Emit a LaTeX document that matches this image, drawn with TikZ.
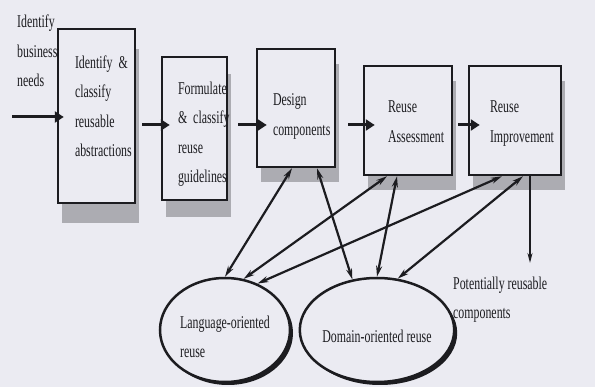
\documentclass[tikz,border=0pt]{standalone}
\usepackage{fontspec}
\setmainfont[FakeStretch=0.66]{Liberation Serif}
\usetikzlibrary{shapes.geometric, shadows, arrows.meta, positioning}
\definecolor{paper}{RGB}{235,235,242}
\definecolor{ink}{RGB}{28,28,32}
\definecolor{shadowgray}{RGB}{172,172,178}
\hyphenpenalty=10000
\exhyphenpenalty=10000
\tikzset{stepbox/.style={draw=ink,line width=2.5pt,fill=paper,text=ink,align=left,
                         font=\fontsize{18}{29.5}\selectfont,inner ysep=0pt},
         boxshadow/.style={drop shadow={shadow xshift=4pt,shadow yshift=-#1,fill=shadowgray,opacity=1}},
         boxshadow/.default=15pt,
         reuse/.style={ellipse,draw=ink,line width=2.5pt,fill=paper,text=ink,align=left,inner sep=0pt,
                       font=\fontsize{18}{29.5}\selectfont,
                       drop shadow={shadow xshift=3pt,shadow yshift=-3pt,fill=ink,opacity=1}},
         txt/.style={text=ink,align=left,inner sep=0pt,anchor=north west,font=\fontsize{18}{29.5}\selectfont},
         flow/.style={ink,line width=3pt,-{Triangle[length=9pt,width=11pt]}},
         twoway/.style={ink,line width=2.2pt,{Stealth[length=11pt,width=6pt]}-{Stealth[length=11pt,width=6pt]}},
        }

\begin{document}
\begin{tikzpicture}[x=1pt,y=-1pt]
        \fill[paper] (0,0) rectangle (595,387);
        \useasboundingbox (0,0) rectangle (595,387);

        \node[txt](needs)at(17,14.7){Identify\\business\\needs};
        \node[stepbox,boxshadow=20pt,minimum width=77pt,minimum height=174pt,text width=43pt,inner xsep=17pt,text depth=108pt](b1)at(96.5,116){Identify~\&\\classify\\reusable\\abstractions};
        \node[stepbox,boxshadow=17pt,minimum width=65pt,minimum height=143pt,text width=33pt,inner xsep=16pt,text depth=81pt](b2)at(194.5,128.5){Formulate\\\&~classify\\reuse\\guidelines};
        \node[stepbox,boxshadow,minimum width=78pt,minimum height=118pt,text width=46pt,inner xsep=16pt,text depth=16pt](b3)at(296,108){Design\\components};
        \node[stepbox,boxshadow,minimum width=88pt,minimum height=109pt,text width=40pt,inner xsep=24pt,text depth=27pt](b4)at(408,120.5){Reuse\\Assessment};
        \node[stepbox,boxshadow,minimum width=92pt,minimum height=109pt,text width=50pt,inner xsep=21pt,text depth=27pt](b5)at(515,120.5){Reuse\\Improvement};

        \node[reuse,minimum width=130pt,minimum height=104pt,text height=56pt,text depth=0pt](e1)at(225,330){Language-oriented\\reuse};
        \node[reuse,minimum width=134pt,minimum height=104pt,text height=26pt,text depth=0pt](e2)at(377,330){Domain-oriented reuse};
        \node[txt](pot)at(453,276.7){Potentially reusable\\components};

        \coordinate(in)at(12,117);
        \coordinate(row)at(0,125);
        \coordinate(out)at(530,263);

        % main chain
        \draw[flow](in)--([xshift=7pt]in -| b1.west);
        \draw[flow]([xshift=6pt]b1.east |- row)--([xshift=9pt]b2.west |- row);
        \draw[flow]([xshift=10pt]b2.east |- row)--([xshift=11pt]b3.west |- row);
        \draw[flow]([xshift=12pt]b3.east |- row)--([xshift=12pt]b4.west |- row);
        \draw[flow]([xshift=5pt]b4.east |- row)--([xshift=12pt]b5.west |- row);

        % links to the reuse kinds
        \draw[twoway]([xshift=-4pt]b3.south)--(e1.90);
        \draw[twoway]([xshift=21pt]b3.south)--(e2.116);
        \draw[twoway]([xshift=-21pt]b4.south)--(e1.70);
        \draw[twoway]([xshift=-11pt]b4.south)--(e2.90);
        \draw[twoway]([xshift=-13pt]b5.south)--(e1.55);
        \draw[twoway]([xshift=8pt]b5.south)--(e2.68);

        \draw[ink,line width=1.5pt,-{Stealth[length=10pt,width=5pt]}]([xshift=15pt]b5.south)--(out);
    \end{tikzpicture}
\end{document}
